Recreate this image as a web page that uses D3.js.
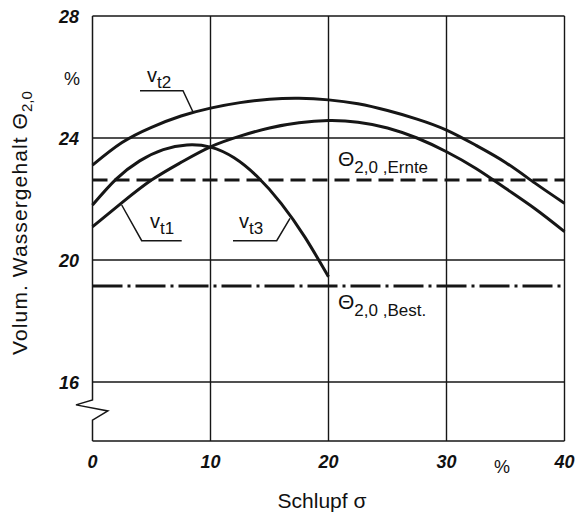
<!DOCTYPE html>
<html>
<head>
<meta charset="utf-8">
<script src="https://cdn.jsdelivr.net/npm/d3@7"></script>
<style>
  body { margin: 0; background: #fff; }
  svg { display: block; }
  .tick-lbl { font-family: "Liberation Sans", Arial, sans-serif; font-weight: bold; font-style: italic; font-size: 18px; fill: #111; }
  .lbl { font-family: "Liberation Sans", Arial, sans-serif; fill: #111; }
</style>
</head>
<body>
<svg id="chart"></svg>
<script>
// slip sigma (%) sampled every 2.5 %
let sigma = [0, 2.5, 5, 7.5, 10, 12.5, 15, 17.5, 20, 22.5, 25, 27.5, 30, 32.5, 35, 37.5, 40];
let vt1 = [21.09, 21.88, 22.62, 23.2, 23.71, 24.06, 24.33, 24.5, 24.57, 24.52, 24.33, 24.0, 23.55, 23.0, 22.35, 21.68, 20.93];
let vt2 = [23.11, 23.85, 24.35, 24.72, 24.98, 25.16, 25.27, 25.3, 25.25, 25.12, 24.9, 24.62, 24.26, 23.76, 23.2, 22.52, 21.86];
// v_t3 only runs up to 20 %
let sigma3 = [0, 2, 4, 6, 8, 10, 12, 14, 16, 18, 20];
let vt3 = [21.8, 22.65, 23.25, 23.62, 23.77, 23.7, 23.35, 22.72, 21.85, 20.75, 19.45];

let thetaErnte = 22.62;
let thetaBest = 19.15;

let xTicks = [0, 10, 20, 30, 40];
let yTicks = [16, 20, 24, 28];

let width = 575;
let height = 513;
let margin = { top: 16, right: 10.5, bottom: 72, left: 92.5 };

const svg = d3.select("#chart").attr("width", width).attr("height", height);

let x = d3.scaleLinear().domain([0, 40]).range([margin.left, width - margin.right]);
let y = d3.scaleLinear().domain([14.066, 28]).range([height - margin.bottom, margin.top]);

const ink = "#161616";

// grid
svg.append("g")
  .selectAll("line")
  .data(xTicks.slice(1))
  .join("line")
  .attr("x1", (d) => x(d)).attr("x2", (d) => x(d))
  .attr("y1", y(14.066)).attr("y2", y(28))
  .attr("stroke", ink).attr("stroke-width", 1.4);

svg.append("g")
  .selectAll("line")
  .data(yTicks.concat([14.066]))
  .join("line")
  .attr("x1", x(0)).attr("x2", x(40))
  .attr("y1", (d) => y(d)).attr("y2", (d) => y(d))
  .attr("stroke", ink).attr("stroke-width", 1.4);

// left axis with break mark
let axisPath = [
  [0, 28], [0, 15.41], [-1.4, 15.25], [1.3, 15.05], [0, 14.75], [0, 14.066]
];
svg.append("path")
  .attr("d", d3.line().x((d) => x(d[0])).y((d) => y(d[1]))(axisPath))
  .attr("fill", "none")
  .attr("stroke", ink)
  .attr("stroke-width", 1.5);

// reference lines
svg.append("line")
  .attr("x1", x(0)).attr("x2", x(40))
  .attr("y1", y(thetaErnte)).attr("y2", y(thetaErnte))
  .attr("stroke", ink).attr("stroke-width", 3)
  .attr("stroke-dasharray", "15 7");

svg.append("line")
  .attr("x1", x(0)).attr("x2", x(40))
  .attr("y1", y(thetaBest)).attr("y2", y(thetaBest))
  .attr("stroke", ink).attr("stroke-width", 3)
  .attr("stroke-dasharray", "30 5 3 5");

// curves
let line = d3.line().curve(d3.curveNatural).x((d) => x(d[0])).y((d) => y(d[1]));
let series = [
  d3.zip(sigma, vt1),
  d3.zip(sigma, vt2),
  d3.zip(sigma3, vt3)
];
svg.append("g")
  .selectAll("path")
  .data(series)
  .join("path")
  .attr("d", line)
  .attr("fill", "none")
  .attr("stroke", ink)
  .attr("stroke-width", 3);

// tick labels
svg.append("g")
  .selectAll("text")
  .data(xTicks)
  .join("text")
  .attr("class", "tick-lbl")
  .attr("x", (d) => x(d))
  .attr("y", 468)
  .attr("text-anchor", "middle")
  .text((d) => d);

svg.append("g")
  .selectAll("text")
  .data(yTicks)
  .join("text")
  .attr("class", "tick-lbl")
  .attr("x", 79)
  .attr("y", (d) => y(d) + 7)
  .attr("text-anchor", "end")
  .text((d) => d);

svg.append("text").attr("class", "lbl").attr("x", 72).attr("y", 85)
  .attr("text-anchor", "middle").attr("font-size", 18).text("%");
svg.append("text").attr("class", "lbl").attr("x", 502).attr("y", 473)
  .attr("text-anchor", "middle").attr("font-size", 18).text("%");

// axis titles
svg.append("text").attr("class", "lbl")
  .attr("x", 322).attr("y", 508)
  .attr("text-anchor", "middle").attr("font-size", 21)
  .text("Schlupf σ");

let yTitle = svg.append("text").attr("class", "lbl")
  .attr("transform", "translate(27,223) rotate(-90)")
  .attr("text-anchor", "middle")
  .attr("font-size", 21)
  .attr("letter-spacing", 1.1);
yTitle.append("tspan").text("Volum. Wassergehalt Θ");
yTitle.append("tspan").attr("font-size", 15).attr("dy", 5).attr("letter-spacing", 0).text("2,0");

// curve labels with leader lines
let leaders = [
  { name: "t2", tx: 147, ty: 82, pts: [[140, 90.7], [183, 90.7], [193, 112]] },
  { name: "t1", tx: 150, ty: 228, pts: [[121.7, 205], [141.7, 240.7], [181.7, 240.7]] },
  { name: "t3", tx: 239, ty: 228, pts: [[233, 240.7], [276.7, 240.7], [290, 218.3]] }
];
svg.append("g")
  .selectAll("path")
  .data(leaders)
  .join("path")
  .attr("d", (d) => d3.line()(d.pts))
  .attr("fill", "none")
  .attr("stroke", ink)
  .attr("stroke-width", 1.5);

let vl = svg.append("g")
  .selectAll("text")
  .data(leaders)
  .join("text")
  .attr("class", "lbl")
  .attr("x", (d) => d.tx)
  .attr("y", (d) => d.ty)
  .attr("font-size", 20);
vl.append("tspan").text("v");
vl.append("tspan").attr("font-size", 17).attr("dy", 6).text((d) => d.name);

// theta labels
let thetaLabels = [
  { sub: "2,0 ,Ernte", tx: 338, ty: 166 },
  { sub: "2,0 ,Best.", tx: 338, ty: 309 }
];
let tl = svg.append("g")
  .selectAll("text")
  .data(thetaLabels)
  .join("text")
  .attr("class", "lbl")
  .attr("x", (d) => d.tx)
  .attr("y", (d) => d.ty)
  .attr("font-size", 21);
tl.append("tspan").text("Θ");
tl.append("tspan").attr("font-size", 17).attr("dy", 7).text((d) => d.sub);
</script>
</body>
</html>
